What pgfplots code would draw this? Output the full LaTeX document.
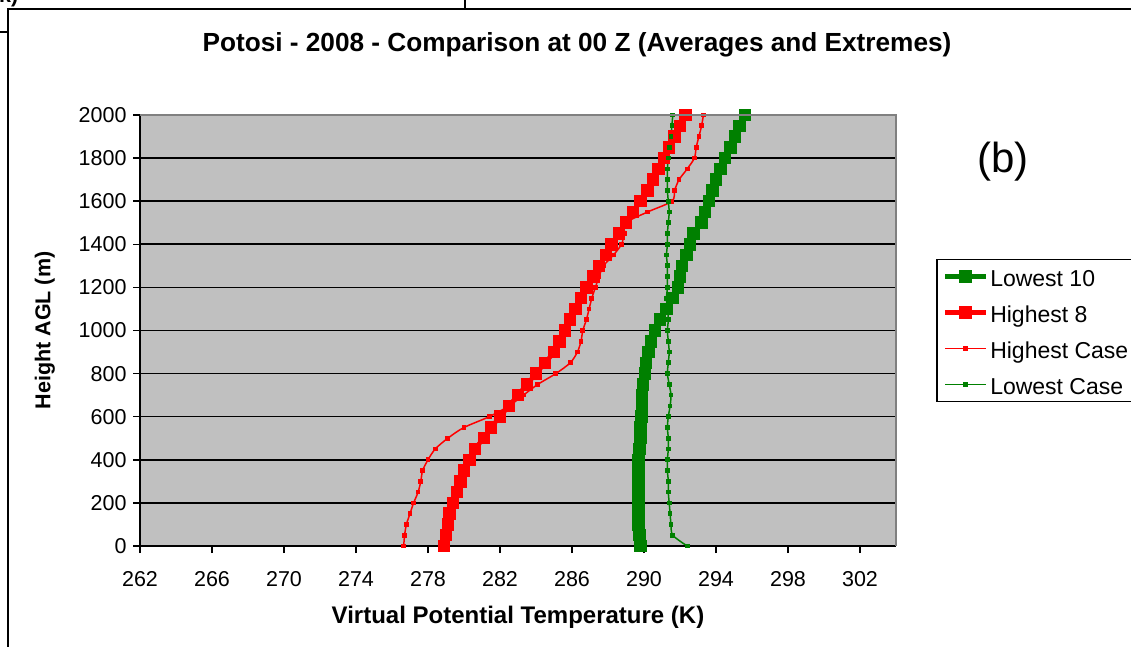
\documentclass[border=0pt]{standalone}
\usepackage{fontspec}
\setmainfont{Liberation Sans}
\usepackage{pgfplots}
\pgfplotsset{compat=1.18}
\usepackage{pgfplotstable}
\definecolor{xlred}{HTML}{FF0000}
\definecolor{xlgreen}{HTML}{008000}
\definecolor{plotgray}{HTML}{C0C0C0}
\definecolor{edgegray}{HTML}{808080}

% virtual potential temperature (K) against height AGL (m)
\pgfplotstableread{
T h
289.8 0
289.75 50
289.7 100
289.7 150
289.7 200
289.7 250
289.7 300
289.7 350
289.7 400
289.75 450
289.8 500
289.8 550
289.85 600
289.9 650
289.9 700
289.95 750
290.05 800
290.1 850
290.25 900
290.4 950
290.6 1000
290.9 1050
291.25 1100
291.6 1150
291.9 1200
292.0 1250
292.1 1300
292.35 1350
292.55 1400
292.75 1450
293.2 1500
293.4 1550
293.6 1600
293.8 1650
294.0 1700
294.25 1750
294.5 1800
294.8 1850
295.05 1900
295.3 1950
295.6 2000
}\lowten

\pgfplotstableread{
T h
278.9 0
279.0 50
279.1 100
279.2 150
279.4 200
279.6 250
279.8 300
280.0 350
280.3 400
280.6 450
281.1 500
281.5 550
282.0 600
282.5 650
283.0 700
283.5 750
284.0 800
284.5 850
285.0 900
285.3 950
285.6 1000
285.9 1050
286.2 1100
286.5 1150
286.8 1200
287.2 1250
287.5 1300
287.9 1350
288.2 1400
288.6 1450
289.0 1500
289.4 1550
289.8 1600
290.2 1650
290.5 1700
290.8 1750
291.1 1800
291.4 1850
291.7 1900
292.0 1950
292.3 2000
}\higheight

\pgfplotstableread{
T h
276.65 0
276.7 50
276.8 100
277.0 150
277.2 200
277.45 250
277.6 300
277.7 350
278.0 400
278.4 450
279.1 500
280.0 550
281.4 600
282.5 650
283.3 700
284.1 750
285.1 800
285.9 850
286.3 900
286.5 950
286.6 1000
286.8 1050
286.95 1100
287.1 1150
287.3 1200
287.5 1250
287.75 1300
288.3 1350
288.75 1400
288.9 1450
289.0 1500
290.2 1550
291.55 1600
291.7 1650
291.95 1700
292.4 1750
292.8 1800
292.9 1850
293.05 1900
293.2 1950
293.3 2000
}\highcase

\pgfplotstableread{
T h
292.4 0
291.6 50
291.5 100
291.45 150
291.4 200
291.35 250
291.35 300
291.3 350
291.3 400
291.35 450
291.35 500
291.3 550
291.35 600
291.45 650
291.5 700
291.4 750
291.3 800
291.35 850
291.4 900
291.35 950
291.3 1000
291.35 1050
291.3 1100
291.25 1150
291.3 1200
291.3 1250
291.3 1300
291.25 1350
291.3 1400
291.3 1450
291.35 1500
291.4 1550
291.35 1600
291.3 1650
291.3 1700
291.3 1750
291.35 1800
291.4 1850
291.5 1900
291.55 1950
291.6 2000
}\lowcase

\begin{document}
\begin{tikzpicture}[font=\fontsize{21.5bp}{25bp}\selectfont]
\useasboundingbox (0,0) rectangle (1131bp,647bp);
\clip (0,0) rectangle (1131bp,647bp);
\fill[white] (0,0) rectangle (1131bp,647bp);
% chart frame and the edge of the panel above
\draw[line width=2bp] (8bp,-5bp) -- (8bp,638bp) -- (1140bp,638bp);
\draw[line width=2bp] (465bp,638bp) -- (465bp,650bp);
\draw[line width=2bp] (-2bp,615bp) -- (8bp,615bp);
\node[anchor=base west,inner sep=0pt,font=\fontsize{21.5bp}{25bp}\selectfont\bfseries] at (-1bp,644bp) {k)};
\node[font=\fontsize{26.2bp}{30bp}\selectfont\bfseries] at (577bp,602bp)
  {Potosi - 2008 - Comparison at 00 Z (Averages and Extremes)};
\node[font=\fontsize{42bp}{48bp}\selectfont] at (1003bp,485bp) {(b)};

\begin{axis}[at={(140bp,101bp)},anchor=south west,scale only axis,
 width=756bp,height=431bp,
 xmin=262,xmax=304,ymin=0,ymax=2000,
 xtick={262,266,...,302},ytick={0,200,...,2000},
 axis lines*=left,axis line style={black,line width=2bp,-},
 axis background/.style={fill=plotgray},
 ymajorgrids,grid style={black,line width=1.6bp},
 tick style={black,line width=1.5bp},tick align=outside,major tick length=7bp,
 /pgf/number format/assume math mode=true,
 /pgf/number format/1000 sep={},
 xticklabel style={yshift=-15bp},
 yticklabel style={xshift=-3bp},
 xlabel={\fontsize{24bp}{28bp}\selectfont\bfseries Virtual Potential Temperature (K)},
 xlabel style={at={(axis description cs:0.5,-0.1647)},anchor=center},
 ylabel={\bfseries Height AGL (m)},
 ylabel style={at={(axis description cs:-0.1257,0.5)},anchor=center},
 clip=false,
 legend cell align=left,
 legend image code/.code={\draw[mark repeat=2,mark phase=2,#1]
   plot coordinates {(0bp,0bp) (20.5bp,0bp) (41bp,0bp)};},
 legend style={at={(rel axis cs:1.0529,0.6659)},anchor=north west,
   draw=black,line width=1.5bp,fill=white,inner xsep=6bp,inner ysep=7bp,
   row sep=16bp,font=\fontsize{23bp}{27bp}\selectfont,
   nodes={inner xsep=2bp,inner ysep=0pt,text height=20bp,text depth=0bp}},
 after end axis/.code={\draw[edgegray,line width=2bp]
   (rel axis cs:0,1) -- (rel axis cs:1,1) -- (rel axis cs:1,0);},
]
\addplot[xlgreen,line width=4.5bp,smooth,mark=square*,mark size=4bp,mark options={solid}]
  table[x=T,y=h] {\lowten};
\addlegendentry{Lowest 10}
\addplot[xlred,line width=4.5bp,smooth,mark=square*,mark size=4bp,mark options={solid}]
  table[x=T,y=h] {\higheight};
\addlegendentry{Highest 8}
\addplot[xlred,line width=1.5bp,smooth,mark=square*,mark size=1.6bp,mark options={solid}]
  table[x=T,y=h] {\highcase};
\addlegendentry{Highest Case}
\addplot[xlgreen,line width=1.5bp,smooth,mark=square*,mark size=1.6bp,mark options={solid}]
  table[x=T,y=h] {\lowcase};
\addlegendentry{Lowest Case}
\end{axis}
\end{tikzpicture}
\end{document}
